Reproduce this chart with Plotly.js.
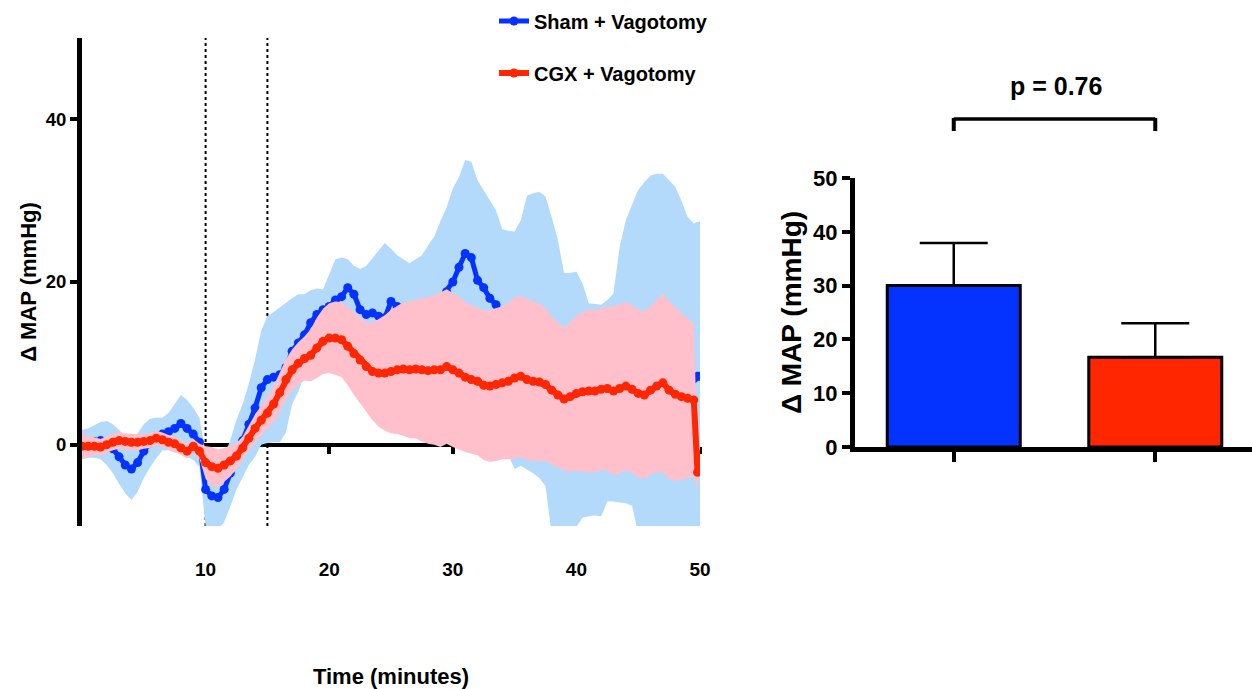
<!DOCTYPE html>
<html><head><meta charset="utf-8">
<script src="https://cdn.plot.ly/plotly-3.0.1.min.js"></script>
<style>html,body{margin:0;padding:0;background:#fff}#chart{width:1252px;height:689px}</style>
</head><body><div id="chart"></div>
<script>
// ---- data ----
const timeMin = [0,0.5,1,1.5,2,2.5,3,3.5,4,4.5,5,5.5,6,6.5,7,7.5,8,8.5,9,9.5,
  10,10.5,11,11.5,12,12.5,13,13.5,14,14.5,15,15.5,16,16.5,17,17.5,18,18.5,19,19.5,
  20,20.5,21,21.5,22,22.5,23,23.5,24,24.5,25,25.5,26,26.5,27,27.5,28,28.5,29,29.5,
  30,30.5,31,31.5,32,32.5,33,33.5,34,34.5,35,35.5,36,36.5,37,37.5,38,38.5,39,39.5,
  40,40.5,41,41.5,42,42.5,43,43.5,44,44.5,45,45.5,46,46.5,47,47.5,48,48.5,49,49.5,49.8,50];

const shamMean = [0.0,0.2,0.4,0.5,0.2,-0.5,-1.5,-2.5,-3.0,-2.2,-0.8,0.2,0.8,1.3,1.6,2.0,2.6,2.0,1.3,0.3,
  -5.5,-6.3,-6.5,-5.5,-3.5,-1.2,0.5,2.5,4.5,7.0,8.0,8.3,8.6,9.5,11.5,12.5,13.5,15.0,16.0,16.6,
  17.0,17.8,18.2,19.3,18.5,16.6,16.0,16.2,15.8,15.6,17.6,17.0,16.5,16.0,16.0,16.2,16.5,17.0,18.0,18.8,
  20.0,21.8,23.5,23.0,20.2,19.3,18.0,17.2,14.0,12.5,11.6,12.5,13.8,13.7,13.5,12.7,8.5,7.1,5.0,5.3,
  5.6,5.4,4.3,4.3,4.2,5.4,5.8,8.6,10.2,11.0,10.2,10.4,10.5,10.6,10.6,10.2,9.9,9.2,8.5,8.1,8.4,8.4];
const shamSem = [1.8,1.8,2.0,2.3,2.7,3.0,3.3,3.5,3.8,3.6,3.3,3.0,2.5,2.0,2.3,3.0,3.5,3.5,3.2,3.0,
  4.5,4.2,4.0,4.0,4.1,4.3,4.5,5.0,6.0,7.0,7.8,8.0,8.3,8.0,6.5,6.0,5.0,4.0,3.2,2.5,
  4.0,5.0,4.8,3.5,3.5,5.0,6.0,6.7,8.0,9.2,6.5,6.3,6.3,6.3,6.8,7.1,8.0,8.6,9.5,10.4,
  11.5,11.1,11.5,11.8,12.3,12.0,12.0,11.6,12.5,13.8,14.6,15.1,16.8,17.2,17.6,17.8,19.5,18.1,16.1,15.8,
  15.7,14.4,13.1,13.0,13.0,12.4,12.8,15.7,17.4,18.5,21.1,21.9,22.6,22.7,22.7,22.3,21.8,20.8,19.5,19.1,19.0,19.0];

const cgxMean = [-0.2,-0.2,-0.2,-0.3,0.0,0.3,0.5,0.4,0.3,0.3,0.4,0.5,0.8,0.6,0.3,0.1,-0.4,-0.8,-0.2,-0.8,
  -2.2,-2.7,-2.9,-2.5,-2.0,-1.4,-0.4,0.8,2.0,3.0,3.9,5.0,6.4,8.0,9.2,10.0,10.6,11.0,11.9,12.7,
  13.1,13.1,12.9,12.1,11.2,10.4,9.6,9.0,8.8,8.8,9.0,9.2,9.3,9.2,9.3,9.2,9.1,9.2,9.2,9.6,
  9.2,8.8,8.3,8.0,7.8,7.3,7.2,7.4,7.6,7.8,8.2,8.4,8.0,7.8,7.7,7.4,6.7,6.1,5.6,5.9,
  6.3,6.5,6.6,6.6,6.8,6.9,6.6,6.9,7.2,6.8,6.3,6.1,6.7,7.2,7.6,6.7,6.2,5.9,5.7,5.5,-3.4,-1.2];
const cgxSem = [1.5,1.3,1.1,1.0,1.0,1.0,1.0,1.0,1.0,1.0,0.9,0.9,0.9,0.9,0.9,0.9,0.9,0.9,0.9,0.9,
  2.0,2.4,2.3,2.1,1.9,1.6,1.4,1.5,1.7,1.8,1.9,2.2,2.4,2.5,2.5,2.6,2.7,3.2,3.7,4.0,
  4.3,4.5,4.6,4.8,5.1,5.3,5.5,6.0,6.6,7.1,7.6,7.9,8.2,8.4,8.5,8.8,9.0,9.2,9.5,9.5,
  9.5,9.4,9.2,9.1,9.1,9.2,9.3,9.4,9.4,9.6,9.9,9.9,9.9,9.8,9.7,9.4,9.1,8.9,8.8,9.2,
  9.5,9.8,10.0,10.0,9.9,10.1,10.4,10.4,10.3,10.3,10.3,10.3,10.3,10.6,11.0,10.9,10.7,10.2,9.8,9.4,2.0,1.0];

const groups = ['Sham + Vagotomy', 'CGX + Vagotomy'];
const peakMean = [30.0, 16.7];
const peakSem = [7.9, 6.3];
const markTimes = [10, 15];
const timeTicks = [10, 20, 30, 40, 50];
const mapTicksLeft = [0, 20, 40];
const pLabel = 'p = 0.76';

// ---- styling ----
const BLUE = '#0433ff', RED = '#ff2600', LBLUE = '#b3dafb', PINK = '#ffc0cb';
const FONT = 'Arial, "Liberation Sans", sans-serif';
const W = 1252, H = 689;
const L = {x0: 82/W, x1: 700/W, y0: 1-526/H, y1: 1-38/H};
const R = {x0: 855/W, x1: 1, y0: 1-447/H, y1: 1-178/H};
const yRangeL = [-10, 50];
const zeroPos = L.y0 + (0 - yRangeL[0]) / (yRangeL[1] - yRangeL[0]) * (L.y1 - L.y0);

function band(t, m, s) {
  const up = t.map((_, i) => m[i] + s[i]);
  const lo = t.map((_, i) => m[i] - s[i]);
  return {x: t.concat(t.slice().reverse()), y: up.concat(lo.slice().reverse())};
}
const bS = band(timeMin, shamMean, shamSem);
const bC = band(timeMin, cgxMean, cgxSem);

const traces = [
  {x: bS.x, y: bS.y, type: 'scatter', mode: 'lines', fill: 'toself', fillcolor: LBLUE,
   line: {width: 0, color: LBLUE}, showlegend: false, hoverinfo: 'skip', xaxis: 'x', yaxis: 'y'},
  {x: timeMin, y: shamMean, type: 'scatter', mode: 'lines+markers', name: groups[0],
   line: {color: BLUE, width: 5}, marker: {color: BLUE, size: 9}, legend: 'legend', xaxis: 'x', yaxis: 'y'},
  {x: bC.x, y: bC.y, type: 'scatter', mode: 'lines', fill: 'toself', fillcolor: PINK,
   line: {width: 0, color: PINK}, showlegend: false, hoverinfo: 'skip', xaxis: 'x', yaxis: 'y'},
  {x: timeMin, y: cgxMean, type: 'scatter', mode: 'lines+markers', name: groups[1],
   line: {color: RED, width: 6}, marker: {color: RED, size: 9}, legend: 'legend2', xaxis: 'x', yaxis: 'y'},
  {x: groups, y: peakMean, type: 'bar', width: 0.66, xaxis: 'x2', yaxis: 'y2', showlegend: false,
   marker: {color: [BLUE, RED], line: {color: 'black', width: 3}},
   error_y: {type: 'data', array: peakSem, arrayminus: [0, 0], symmetric: false,
             color: 'black', thickness: 2.5, width: 34}}
];

const tickFontL = {family: FONT, size: 19, weight: 'bold', color: 'black'};
const legFont = {family: FONT, size: 20, weight: 'bold', color: 'black'};
const layout = {
  width: W, height: H, margin: {l: 0, r: 0, t: 0, b: 0},
  paper_bgcolor: 'white', plot_bgcolor: 'white',
  font: {family: FONT, color: 'black'},
  showlegend: true,
  legend: {x: 494/W, xanchor: 'left', y: 1-21/H, yanchor: 'middle', bgcolor: 'rgba(0,0,0,0)', font: legFont},
  legend2: {x: 494/W, xanchor: 'left', y: 1-73/H, yanchor: 'middle', bgcolor: 'rgba(0,0,0,0)', font: legFont},
  xaxis: {domain: [L.x0, L.x1], range: [0, 50], anchor: 'free', position: zeroPos,
          showline: true, linecolor: 'black', linewidth: 4, layer: 'below traces',
          ticks: 'outside', ticklen: 7, tickwidth: 4, tickcolor: 'black', tickvals: timeTicks,
          ticklabelstandoff: 100, tickfont: tickFontL, showgrid: false, zeroline: false, automargin: false,
          title: {text: 'Time (minutes)', font: {family: FONT, size: 22, weight: 'bold', color: 'black'}, standoff: 100}},
  yaxis: {domain: [L.y0, L.y1], range: yRangeL, anchor: 'x', tickvals: mapTicksLeft,
          showline: true, linecolor: 'black', linewidth: 5,
          ticks: 'outside', ticklen: 7, tickwidth: 4, tickcolor: 'black',
          tickfont: {family: FONT, size: 18.5, weight: 'bold', color: 'black'},
          showgrid: false, zeroline: false, automargin: false,
          title: {text: 'Δ MAP (mmHg)', font: {family: FONT, size: 22, weight: 'bold', color: 'black'}, standoff: 5}},
  xaxis2: {domain: [R.x0, R.x1], anchor: 'y2', type: 'category', range: [-0.49, 1.48],
           showline: true, linecolor: 'black', linewidth: 4.5,
           ticks: 'outside', ticklen: 10, tickwidth: 4, tickcolor: 'black',
           showticklabels: false, showgrid: false, zeroline: false, automargin: false},
  yaxis2: {domain: [R.y0, R.y1], anchor: 'x2', range: [0, 50], dtick: 10, tick0: 0,
           showline: true, linecolor: 'black', linewidth: 5,
           ticks: 'outside', ticklen: 8, tickwidth: 4, tickcolor: 'black',
           tickfont: {family: FONT, size: 22, weight: 'bold', color: 'black'},
           showgrid: false, zeroline: false, automargin: false,
           title: {text: 'Δ MAP (mmHg)', font: {family: FONT, size: 28, weight: 'bold', color: 'black'}, standoff: 5}},
  shapes: markTimes.map(t => ({type: 'line', xref: 'x', yref: 'y domain', x0: t, x1: t, y0: 0, y1: 1,
            layer: 'below', line: {color: 'black', width: 2, dash: 'dot'}})).concat([
    {type: 'line', xref: 'x2', yref: 'paper', x0: groups[0], x1: groups[1], y0: 1-119/H, y1: 1-119/H,
     line: {color: 'black', width: 3.5}},
    {type: 'line', xref: 'x2', yref: 'paper', x0: groups[0], x1: groups[0], y0: 1-118/H, y1: 1-131/H,
     line: {color: 'black', width: 4}},
    {type: 'line', xref: 'x2', yref: 'paper', x0: groups[1], x1: groups[1], y0: 1-118/H, y1: 1-131/H,
     line: {color: 'black', width: 4}}
  ]),
  annotations: [{text: pLabel, xref: 'paper', yref: 'paper', x: 1056/W, y: 1-86/H,
                 xanchor: 'center', yanchor: 'middle', showarrow: false,
                 font: {family: FONT, size: 25, weight: 'bold', color: 'black'}}]
};

Plotly.newPlot('chart', traces, layout, {displayModeBar: false, staticPlot: true});
</script>
</body></html>
